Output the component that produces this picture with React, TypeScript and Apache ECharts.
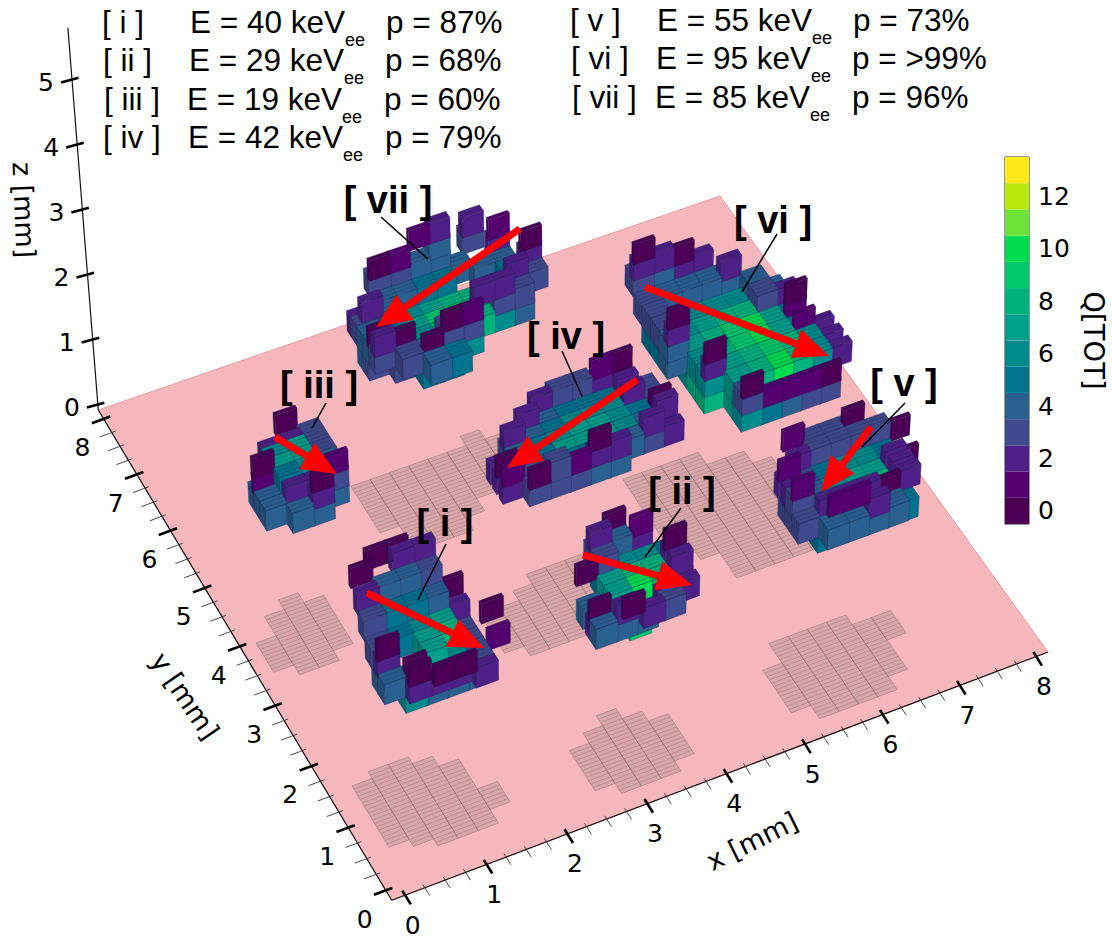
import React, { useEffect, useRef } from "react";
import * as echarts from "echarts";

const PAGE_W = 1112;
const PAGE_H = 943;

// Discrete charge colour scale, Q[TOT] = 0..13
const chargeColors = ["#4b0055", "#54006e", "#4e2087", "#3f4a8c", "#2a6090", "#00738e", "#008c8c", "#00a08a", "#00b37d", "#00c96c", "#00dc4e", "#6ce337", "#b8ea0b", "#fde81a"];
const colorbarTicks = [0, 1, 2, 3, 4, 5, 6, 7, 8, 9, 10, 11, 12, 13];
const colorbarLabels = [0, 2, 4, 6, 8, 10, 12];

const xTickLabels = [0, 1, 2, 3, 4, 5, 6, 7, 8];
const yTickLabels = [0, 1, 2, 3, 4, 5, 6, 7, 8];
const zTickLabels = [0, 1, 2, 3, 4, 5];

// Voxel layers, one string per z level (lowest first); rows run far to near, columns by rising x.
// '.' = empty, hex digit = Q[TOT]
const clusterILayers = [
  "...... ...... ...... ...... ...... .66... .6444. ...... ......",
  "...... ...... ...... ...... ....3. 4...3. 45663. .2223. ....2.",
  "...... ...... ...... ....2. 3567.. 2.78.. .07..1 .0.... ..00..",
  "...... ...... ....0. 3554.. ...... 0....0 ...... ...... ......",
  "...... ...... 2443.. ...... ...... ...... ...... ...... ......",
  ".00... 0.22.. ...... ...... ...... ...... ...... ...... ......",
];
const clusterIILayers = [
  "..... ..... ..... ..... ..9.. ..... .....",
  "..... ..... ..... 4.... 26... 444.. .....",
  "..... ..... .5665 .7885 07a83 .2.22 ..23.",
  "..... .342. 03... ....2 ....2 ..... .0...",
  "..0.. .2.1. ..... ....0 ..... ..... .....",
];
const clusterIIILayers = [
  ".... .... .... .... .... .... ....",
  ".... .... .55. 4665 4664 4464 .44.",
  ".... .223 .673 1773 .564 .223 ..2.",
  "..0. .... .... 0... .... ...1 ..0.",
];
const clusterIVLayers = [
  "......... ......... ......... ......... ......... ......... .........",
  "...4544.. ..3455543 .34566643 245677653 245777642 234556432 .33344...",
  "...23322. ..2....2. .2.....2. ........0 0.......2 1......2. .03122...",
  "......10. ......... ......... ......... ......... ......... ....0....",
];
const clusterVLayers = [
  "....... ....... ....... ....... ..666.. .56866. .56865. .......",
  "....... ....... ..4444. .356650 346776. 357886. 34665.. .4444..",
  "....... ..333.. .233330 2...... 2....2. 3....2. .22202. ...2...",
  "....... .1..0.. ....... 1...... ....... 1...... ....... .11....",
];
const clusterVILayers = [
  "........ ........ ........ ........ .66..... .876.... .877.... ..78544. ..65433.",
  "........ .....5.. 5566654. 5678864. 4789a75. .689a752 .6789862 ..78a862 ..31110.",
  "........ 34444... 3....4.. 3....32. 4.....1. ......1. .2...... ........ ..0.....",
  "3422.... ....2... ........ ........ 2.....0. ........ .0...... ........ ........",
  "220..... ........ ........ ........ 0....... ........ ........ ........ ........",
  "0....... ........ ........ ........ ........ ........ ........ ........ ........",
];
const clusterVIILayers = [
  "......... ......... ......... 4........ 34....... .345..... ..55..... .........",
  "......... 2........ 3......5. 45678865. 4579a875. 34689864. .3456.... ..45.....",
  "......... .....4... .4455.44. .4.....52 0......33 20....33. ..033.... .........",
  "......3.. .3344..2. ......... 2.......2 .......2. .....22.. ...01.... .........",
  "......2.. .01.4..1. ......... ........0 ......... ......... ......... .........",
  "......... ...12.... ......... ......... ......... ......... ......... .........",
];

// Cluster grids in mm: lower x edge, lower y edge, lowest voxel z, strips per row (far to near)
const clusterGrids = [
  { layers: clusterVIILayers, x0: 2.03, y0: 4.45, z0: 2.17, rows: [3, 3, 3, 3, 3, 3, 4, 4] },
  { layers: clusterVILayers, x0: 4.96, y0: 2.43, z0: 2.22, rows: [4, 4, 4, 4, 4, 4, 4, 4, 4] },
  { layers: clusterIVLayers, x0: 2.53, y0: 2.4, z0: 2.02, rows: [3, 3, 3, 3, 3, 3, 3] },
  { layers: clusterIIILayers, x0: 0.03, y0: 3.3, z0: 1.9, rows: [3, 3, 3, 3, 3, 3, 3] },
  { layers: clusterVLayers, x0: 5.08, y0: 0.1, z0: 2.32, rows: [3, 3, 3, 4, 3, 3, 3, 4] },
  { layers: clusterIILayers, x0: 2.56, y0: 0.1, z0: 1.9, rows: [3, 3, 3, 3, 3, 3, 3] },
  { layers: clusterILayers, x0: 0.13, y0: 0.32, z0: 1.92, rows: [2, 3, 3, 3, 3, 3, 3, 2, 2] },
];
const VOXEL_X = 0.25;
const VOXEL_OVERLAP = 0.02;
const STRIP_Y = 0.055;
const VOXEL_Z = 0.25;
const VOXEL_SKIRT = 0.06;

// Tracks in mm: x, y, z
const trackStarts = [
  [0.333, 1.398, 2.92], [2.693, 0.869, 2.92], [0.389, 3.973, 2.92], [4.411, 2.993, 2.92],
  [6.439, 1.192, 2.92], [5.149, 4.273, 2.92], [4.273, 5.746, 2.92],
];
const trackEnds = [
  [1.135, 0.118, 2.92], [3.568, -0.051, 2.92], [0.776, 3.156, 2.92], [2.509, 2.411, 2.92],
  [5.476, 0.559, 2.92], [6.529, 2.378, 2.92], [2.121, 5.038, 2.92],
];

const legendRows = [
  { id: "[ i ]", idX: 102, eText: "E = 40 keV", eX: 190, pText: "p = 87%", pX: 386, y: 22 },
  { id: "[ ii ]", idX: 103, eText: "E = 29 keV", eX: 189, pText: "p = 68%", pX: 385, y: 60 },
  { id: "[ iii ]", idX: 104, eText: "E = 19 keV", eX: 187, pText: "p = 60%", pX: 384, y: 99 },
  { id: "[ iv ]", idX: 103, eText: "E = 42 keV", eX: 188, pText: "p = 79%", pX: 385, y: 137 },
  { id: "[ v ]", idX: 570, eText: "E = 55 keV", eX: 657, pText: "p = 73%", pX: 853, y: 20 },
  { id: "[ vi ]", idX: 571, eText: "E = 95 keV", eX: 656, pText: "p = >99%", pX: 852, y: 58 },
  { id: "[ vii ]", idX: 572, eText: "E = 85 keV", eX: 655, pText: "p = 96%", pX: 852, y: 97 },
];
const clusterTags = [
  { text: "[ vii ]", x: 388, y: 200, line: [381, 217, 428, 259] },
  { text: "[ iii ]", x: 319, y: 385, line: [326, 403, 312, 428] },
  { text: "[ i ]", x: 445, y: 523, line: [446, 544, 418, 600] },
  { text: "[ ii ]", x: 682, y: 491, line: [681, 508, 645, 557] },
  { text: "[ iv ]", x: 566, y: 336, line: [562, 351, 582, 396] },
  { text: "[ v ]", x: 904, y: 383, line: [905, 403, 862, 447] },
  { text: "[ vi ]", x: 773, y: 220, line: [777, 234, 742, 292] },
];

// Perspective view of the floor
const MARGIN = 0.16;
const SPAN = 8 + 2 * MARGIN;
const Z_FLOOR = -0.08;
const Z_PX = 65;
function project(x: number, y: number, z: number): [number, number] {
  const u = (x + MARGIN) / SPAN;
  const v = (y + MARGIN) / SPAN;
  const w = 1 + 0.03936 * u + 0.07642 * v;
  const fx = (697.6 * u - 285.9 * v + 391.7) / w;
  const fy = (-222.6 * u - 459 * v + 900.3) / w;
  const lift = z - Z_FLOOR;
  return [fx + (fx - 560) * 0.0112 * lift, fy - Z_PX * lift];
}

function shade(hex: string, f: number) {
  const n = parseInt(hex.slice(1), 16);
  const c = [(n >> 16) & 255, (n >> 8) & 255, n & 255].map((v) => Math.round(v * f));
  return `rgb(${c[0]},${c[1]},${c[2]})`;
}

type Voxel = number[];
function buildGeometry() {
  const voxels: Voxel[] = [];
  const shadows: Voxel[] = [];
  clusterGrids.forEach((g) => {
    const grid = g.layers.map((s) => s.split(" "));
    const span: Record<number, [number, number]> = {};
    let top = g.y0 + g.rows.reduce((a, b) => a + b, 0) * STRIP_Y;
    g.rows.forEach((strips, r) => {
      const y1 = top;
      const y0 = top - strips * STRIP_Y;
      top = y0;
      const cols = Math.max(...grid.map((l) => (l[r] || "").length));
      for (let c = cols - 1; c >= 0; c--) {
        const x0 = g.x0 + c * VOXEL_X;
        grid.forEach((l, level) => {
          const ch = (l[r] || "")[c];
          if (!ch || ch === ".") return;
          span[c] = span[c] ? [Math.min(span[c][0], y0), Math.max(span[c][1], y1)] : [y0, y1];
          const z0 = g.z0 + level * VOXEL_Z;
          const q = parseInt(ch, 16);
          const depth = q <= 1 ? 1 : q === 2 ? Math.min(2, strips) : strips;
          voxels.push([x0, x0 + VOXEL_X + VOXEL_OVERLAP, y0, y0 + depth * STRIP_Y, z0 - VOXEL_SKIRT, z0 + VOXEL_Z, q, depth]);
        });
      }
    });
    Object.keys(span).forEach((k) => {
      const c = Number(k);
      const x0 = g.x0 + c * VOXEL_X;
      const n = Math.round((span[c][1] - span[c][0]) / STRIP_Y);
      shadows.push([x0, x0 + VOXEL_X, span[c][0], span[c][1], n]);
    });
  });
  return { voxels, shadows };
}

export default function App() {
  const ref = useRef<HTMLDivElement>(null);
  useEffect(() => {
    const chart = echarts.init(ref.current!, undefined, { renderer: "svg" });
    const { voxels, shadows } = buildGeometry();
    const P = (api: any, x: number, y: number, z: number) => api.coord(project(x, y, z));
    const hidden = { show: false };

    const axisRows: number[][] = [];
    xTickLabels.forEach((v) => {
      axisRows.push([0, v, 1]);
      if (v < 8) [0.25, 0.5, 0.75].forEach((d) => axisRows.push([0, v + d, 0]));
    });
    yTickLabels.forEach((v) => {
      axisRows.push([1, v, 1]);
      if (v < 8) [0.25, 0.5, 0.75].forEach((d) => axisRows.push([1, v + d, 0]));
    });
    zTickLabels.forEach((v) => axisRows.push([2, v, 1]));

    const tickAt = (axis: number, v: number) =>
      axis === 0 ? project(v, -MARGIN, Z_FLOOR) : axis === 1 ? project(-MARGIN, v, Z_FLOOR) : project(-MARGIN, 8 + MARGIN, v);

    const option: any = {
      animation: false,
      grid: [
        { left: 0, top: 0, width: PAGE_W, height: PAGE_H, show: false },
        { left: 1005, top: 157, width: 24, height: 367, show: true, borderColor: "#333", borderWidth: 1 },
      ],
      xAxis: [
        { type: "value", gridIndex: 0, min: 0, max: PAGE_W, axisLine: hidden, axisTick: hidden, axisLabel: hidden, splitLine: hidden },
        { type: "value", gridIndex: 1, min: 0, max: 1, axisLine: hidden, axisTick: hidden, axisLabel: hidden, splitLine: hidden },
      ],
      yAxis: [
        { type: "value", gridIndex: 0, min: 0, max: PAGE_H, inverse: true, axisLine: hidden, axisTick: hidden, axisLabel: hidden, splitLine: hidden },
        {
          type: "value", gridIndex: 1, position: "right", min: -0.5, max: 13.5,
          splitLine: hidden,
          axisLine: { show: true, lineStyle: { color: "#333" } },
          axisTick: { show: true, length: 7, customValues: colorbarTicks, lineStyle: { color: "#000", width: 1.5 } },
          axisLabel: { show: true, customValues: colorbarLabels, fontFamily: "DejaVu Sans", fontSize: 25, color: "#000", margin: 9 },
          name: "Q[TOT]", nameLocation: "middle", nameRotate: -90, nameGap: 51,
          nameTextStyle: { fontFamily: "DejaVu Sans", fontSize: 27.5, color: "#000" },
        },
      ],
      series: [
        {
          type: "custom", xAxisIndex: 1, yAxisIndex: 1, clip: false, silent: true, z: 2,
          data: chargeColors.map((_, q) => [0, q]),
          encode: { x: 0, y: 1 },
          renderItem: (_: any, api: any) => {
            const q = api.value(1);
            const a = api.coord([0, q - 0.5]);
            const b = api.coord([1, q + 0.5]);
            return { type: "rect", shape: { x: a[0], y: b[1], width: b[0] - a[0], height: a[1] - b[1] }, style: { fill: chargeColors[q] } };
          },
        },
        {
          type: "custom", clip: false, silent: true, z: 1, data: [[0, 0]], encode: { x: 0, y: 1 },
          renderItem: (_: any, api: any) => ({
            type: "polygon",
            shape: {
              points: [
                P(api, -MARGIN, -MARGIN, Z_FLOOR), P(api, 8 + MARGIN, -MARGIN, Z_FLOOR),
                P(api, 8 + MARGIN, 8 + MARGIN, Z_FLOOR), P(api, -MARGIN, 8 + MARGIN, Z_FLOOR),
              ],
            },
            style: { fill: "#f6b8bc", stroke: "#ee9aa2", lineWidth: 1 },
          }),
        },
        {
          type: "custom", clip: false, silent: true, z: 2, data: shadows, encode: { x: 0, y: 2 },
          renderItem: (_: any, api: any) => {
            const [x0, x1, y0, y1, n] = [0, 1, 2, 3, 4].map((i) => api.value(i));
            const children: any[] = [
              {
                type: "polygon",
                shape: { points: [P(api, x0, y0, Z_FLOOR), P(api, x1, y0, Z_FLOOR), P(api, x1, y1, Z_FLOOR), P(api, x0, y1, Z_FLOOR)] },
                style: { fill: "rgba(150,130,125,0.3)", stroke: "rgba(110,85,85,0.45)", lineWidth: 0.8 },
              },
            ];
            for (let i = 1; i < n; i++) {
              const y = y0 + i * STRIP_Y;
              const a = P(api, x0, y, Z_FLOOR);
              const b = P(api, x1, y, Z_FLOOR);
              children.push({ type: "line", shape: { x1: a[0], y1: a[1], x2: b[0], y2: b[1] }, style: { stroke: "rgba(125,95,95,0.42)", lineWidth: 0.8 } });
            }
            return { type: "group", children };
          },
        },
        {
          type: "custom", clip: false, silent: true, z: 3,
          data: [[0, 0, 8 + MARGIN], [1, 0, 8 + MARGIN], [2, 0, 5.8]], encode: { x: 0, y: 1 },
          renderItem: (_: any, api: any) => {
            const k = api.value(0);
            const end = api.value(2);
            const a = k === 0 ? project(-MARGIN, -MARGIN, Z_FLOOR) : k === 1 ? project(-MARGIN, -MARGIN, Z_FLOOR) : project(-MARGIN, 8 + MARGIN, Z_FLOOR);
            const b = tickAt(k, end);
            return { type: "line", shape: { x1: a[0], y1: a[1], x2: b[0], y2: b[1] }, style: { stroke: "#111", lineWidth: 1.2 } };
          },
        },
        {
          type: "custom", clip: false, silent: true, z: 3, data: axisRows, encode: { x: 0, y: 1 },
          renderItem: (_: any, api: any) => {
            const k = api.value(0);
            const major = api.value(2) === 1;
            const c = tickAt(k, api.value(1));
            const vec = k === 0 ? (major ? [-2.5, -4.7, 6, 9] : [-2.5, -3, 4.5, 8]) : k === 1 ? (major ? [6.7, -2.2, -11.7, 4.6] : [4, -1.5, -12, 4.5]) : [6.5, -2, -11, 2.8];
            return {
              type: "line",
              shape: { x1: c[0] + vec[0], y1: c[1] + vec[1], x2: c[0] + vec[2], y2: c[1] + vec[3] },
              style: { stroke: major ? "#000" : "#333", lineWidth: major ? 2.6 : 0.9 },
            };
          },
        },
        {
          type: "custom", clip: false, silent: true, z: 3, data: axisRows.filter((r) => r[2] === 1), encode: { x: 0, y: 1 },
          renderItem: (_: any, api: any) => {
            const k = api.value(0);
            const v = api.value(1);
            const c = tickAt(k, v);
            const off = k === 0 ? [8, 30] : k === 1 ? [-21, 29] : [-26, 2.5];
            return {
              type: "text",
              style: { text: String(v), x: c[0] + off[0], y: c[1] + off[1], fontFamily: "DejaVu Sans", fontSize: 25, fill: "#000", align: "center", verticalAlign: "middle" },
            };
          },
        },
        {
          type: "custom", clip: false, silent: true, z: 4, data: voxels, encode: { x: 0, y: 2 },
          renderItem: (_: any, api: any) => {
            const [x0, x1, y0, y1, z0, z1, q, n] = [0, 1, 2, 3, 4, 5, 6, 7].map((i) => api.value(i));
            const col = chargeColors[q];
            const edge = { stroke: "rgba(25,25,70,0.42)", lineWidth: 0.7 };
            const children: any[] = [
              { type: "polygon", shape: { points: [P(api, x0, y0, z0), P(api, x0, y1, z0), P(api, x0, y1, z1), P(api, x0, y0, z1)] }, style: { fill: shade(col, 0.82), ...edge } },
              { type: "polygon", shape: { points: [P(api, x0, y0, z0), P(api, x1, y0, z0), P(api, x1, y0, z1), P(api, x0, y0, z1)] }, style: { fill: shade(col, 1), ...edge } },
              { type: "polygon", shape: { points: [P(api, x0, y0, z1), P(api, x1, y0, z1), P(api, x1, y1, z1), P(api, x0, y1, z1)] }, style: { fill: shade(col, 0.95), ...edge } },
            ];
            for (let i = 1; i < n; i++) {
              const y = y0 + i * STRIP_Y;
              const a = P(api, x0, y, z1);
              const b = P(api, x1, y, z1);
              const c = P(api, x0, y, z0);
              children.push({ type: "line", shape: { x1: a[0], y1: a[1], x2: b[0], y2: b[1] }, style: { stroke: "rgba(25,25,70,0.32)", lineWidth: 0.6 } });
              children.push({ type: "line", shape: { x1: a[0], y1: a[1], x2: c[0], y2: c[1] }, style: { stroke: "rgba(25,25,70,0.32)", lineWidth: 0.6 } });
            }
            return { type: "group", children };
          },
        },
        {
          type: "custom", clip: false, silent: true, z: 6,
          data: trackStarts.map((s, i) => [...s, ...trackEnds[i]]), encode: { x: 0, y: 1 },
          renderItem: (_: any, api: any) => {
            const v = [0, 1, 2, 3, 4, 5].map((i) => api.value(i));
            const a = P(api, v[0], v[1], v[2]);
            const b = P(api, v[3], v[4], v[5]);
            const dx = b[0] - a[0];
            const dy = b[1] - a[1];
            const len = Math.hypot(dx, dy);
            const ux = dx / len;
            const uy = dy / len;
            const base = [b[0] - ux * 35, b[1] - uy * 35];
            const hw = 15;
            return {
              type: "group",
              children: [
                { type: "line", shape: { x1: a[0], y1: a[1], x2: base[0], y2: base[1] }, style: { stroke: "#ff0000", lineWidth: 7 } },
                { type: "polygon", shape: { points: [b, [base[0] - uy * hw, base[1] + ux * hw], [base[0] + uy * hw, base[1] - ux * hw]] }, style: { fill: "#ff0000" } },
              ],
            };
          },
        },
      ],
      graphic: [
        ...legendRows.flatMap((r) => {
          const t = (text: string, x: number, y: number, size: number) => ({
            type: "text", z: 20, silent: true, x, y,
            style: { text, fontFamily: "Liberation Sans", fontSize: size, fill: "#000", verticalAlign: "middle", align: "left" },
          });
          return [t(r.id, r.idX, r.y, 31.5), t(r.eText, r.eX, r.y, 31.5), t("ee", r.eX + 155, r.y + 18, 18), t(r.pText, r.pX, r.y, 31.5)];
        }),
        ...clusterTags.flatMap((c) => [
          {
            type: "text", z: 20, silent: true, x: c.x, y: c.y,
            style: { text: c.text, fontFamily: "Liberation Sans", fontWeight: "bold", fontSize: 38, fill: "#000", align: "center", verticalAlign: "middle" },
          },
          { type: "line", z: 19, silent: true, shape: { x1: c.line[0], y1: c.line[1], x2: c.line[2], y2: c.line[3] }, style: { stroke: "#000", lineWidth: 1.5 } },
        ]),
        { type: "text", z: 20, silent: true, x: 752, y: 841, rotation: 0.46, style: { text: "x [mm]", fontFamily: "DejaVu Sans", fontSize: 27, fill: "#000", align: "center", verticalAlign: "middle" } },
        { type: "text", z: 20, silent: true, x: 185, y: 696, rotation: -0.97, style: { text: "y [mm]", fontFamily: "DejaVu Sans", fontSize: 27, fill: "#000", align: "center", verticalAlign: "middle" } },
        { type: "text", z: 20, silent: true, x: 24, y: 210, rotation: -1.53, style: { text: "z [mm]", fontFamily: "DejaVu Sans", fontSize: 27, fill: "#000", align: "center", verticalAlign: "middle" } },
      ],
    };
    chart.setOption(option);
    return () => chart.dispose();
  }, []);
  return <div ref={ref} style={{ position: "fixed", left: 0, top: 0, width: PAGE_W, height: PAGE_H, background: "#fff" }} />;
}
